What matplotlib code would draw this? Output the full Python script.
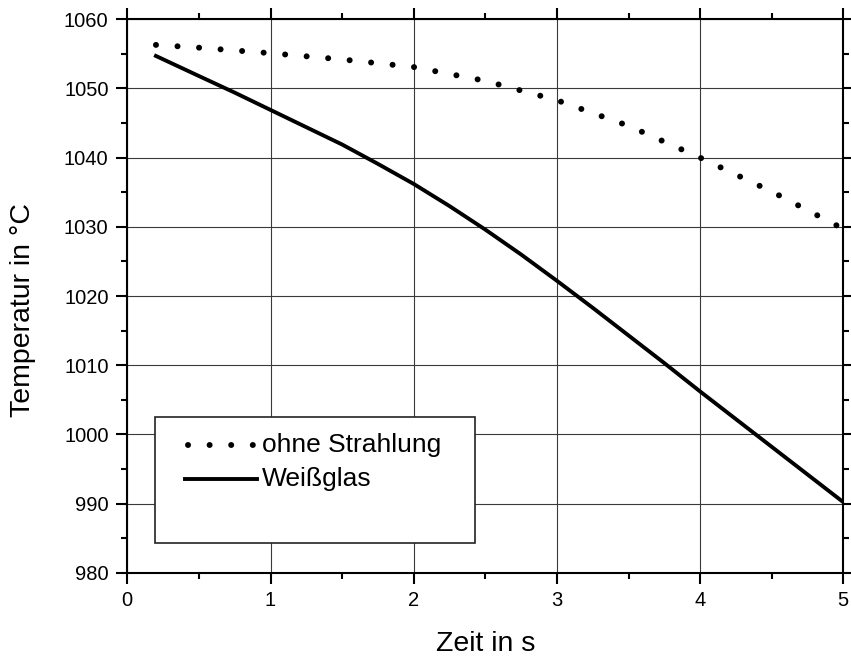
import matplotlib
matplotlib.use("Agg")
import matplotlib.pyplot as plt
from matplotlib.patches import Rectangle
from matplotlib.ticker import MultipleLocator

plt.rcParams['font.family'] = ['Liberation Sans', 'DejaVu Sans']

# data
zeit_ohne = [0.2, 0.5, 1.0, 1.5, 2.0, 2.5, 3.0, 3.5, 4.0, 4.5, 5.0]
ohne_strahlung = [1056.3, 1055.9, 1055.1, 1054.2, 1053.1, 1051.1, 1048.3, 1044.6, 1040.0, 1035.1, 1029.7]
zeit_weiss = [0.2, 0.5, 0.75, 1.0, 1.25, 1.5, 1.75, 2.0, 2.25, 2.5, 2.75, 3.0,
              3.25, 3.5, 3.75, 4.0, 4.25, 4.5, 4.75, 5.0]
weissglas = [1054.7, 1051.8, 1049.4, 1046.9, 1044.4, 1041.9, 1039.1, 1036.2, 1033.0, 1029.6,
             1026.0, 1022.2, 1018.3, 1014.3, 1010.3, 1006.2, 1002.2, 998.2, 994.2, 990.2]
series_labels = ["ohne Strahlung", "Weißglas"]
xlabel = "Zeit in s"
ylabel = "Temperatur in °C"

fig = plt.figure(figsize=(8.51, 6.62), dpi=100)
ax = fig.add_axes([127.3/851, 1-572.7/662, (843.3-127.3)/851, (572.7-19.3)/662])

ax.set_xlim(0, 5)
ax.set_ylim(980, 1060)
ax.xaxis.set_major_locator(MultipleLocator(1))
ax.xaxis.set_minor_locator(MultipleLocator(0.5))
ax.yaxis.set_major_locator(MultipleLocator(10))
ax.yaxis.set_minor_locator(MultipleLocator(5))

ax.grid(True, which='major', color='#3a3a3a', linewidth=0.8, zorder=1)
ax.set_axisbelow(True)

dot_lw = 4.3
dot_style = (0, (0.01, 15.5 / dot_lw))
ax.plot(zeit_ohne, ohne_strahlung, color='black', linewidth=dot_lw, linestyle=dot_style,
        dash_capstyle='round', zorder=3)
ax.plot(zeit_weiss, weissglas, color='black', linewidth=2.8, zorder=3,
        solid_joinstyle='round')

for s in ax.spines.values():
    s.set_linewidth(1.5)
    s.set_zorder(5)

ax.tick_params(which='major', direction='out', length=8, width=1.5, labelsize=14.5, pad=5.5,
               top=True, right=True, labeltop=False, labelright=False)
ax.tick_params(which='minor', direction='out', length=4, width=1.5,
               top=True, right=True)

ax.set_xlabel(xlabel, fontsize=20.5, labelpad=15)
ax.set_ylabel(ylabel, fontsize=20.5)
ax.yaxis.set_label_coords(-0.127, 0.4747)

# legend box (manual, drawn in axes coordinates)
def ax_x(px):
    return (px - 127.3) / (843.3 - 127.3)
def ax_y(py):
    return 1 - (py - 19.3) / (572.7 - 19.3)

rect = Rectangle((ax_x(155), ax_y(543)), ax_x(475) - ax_x(155), ax_y(417) - ax_y(543),
                 transform=ax.transAxes, facecolor='white', edgecolor='#222222',
                 linewidth=1.2, zorder=4)
ax.add_patch(rect)
ax.plot([ax_x(188), ax_x(255)], [ax_y(445.5)] * 2, transform=ax.transAxes, color='black',
        linewidth=dot_lw, linestyle=dot_style, dash_capstyle='round', zorder=5)
ax.plot([ax_x(185), ax_x(257)], [ax_y(479)] * 2, transform=ax.transAxes, color='black',
        linewidth=2.8, zorder=5)
ax.text(ax_x(262), ax_y(445.5), series_labels[0], transform=ax.transAxes, fontsize=19,
        va='center', ha='left', zorder=6)
ax.text(ax_x(262), ax_y(479), series_labels[1], transform=ax.transAxes, fontsize=19,
        va='center', ha='left', zorder=6)

fig.savefig("out.png", dpi=100)
